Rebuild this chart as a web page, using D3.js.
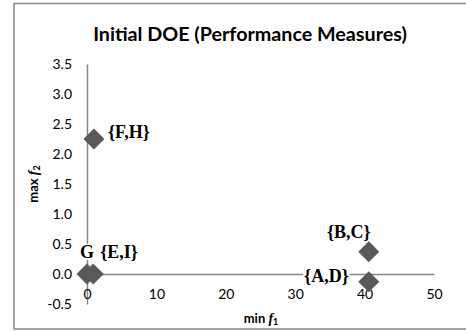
<!DOCTYPE html>
<html>
<head>
<meta charset="utf-8">
<script src="https://cdn.jsdelivr.net/npm/d3@7"></script>
<style>
  html, body { margin: 0; padding: 0; background: #fff; }
  svg { display: block; }
</style>
</head>
<body>
<svg id="chart" width="466" height="331"></svg>
<script>
// ---- data ----
const categories = ["G", "{E,I}", "{F,H}", "{B,C}", "{A,D}"];
const f1Values = [0, 0.9, 1.0, 40.6, 40.6];
const f2Values = [0, 0, 2.25, 0.37, -0.13];
const xTicks = [0, 10, 20, 30, 40, 50];
const yTicks = [-0.5, 0, 0.5, 1.0, 1.5, 2.0, 2.5, 3.0, 3.5];
const labelPlacement = ["above", "aboveRight", "right", "aboveLeft", "left"];
const titleText = "Initial DOE (Performance Measures)";

// ---- layout ----
const W = 466, H = 331;
const plot = { left: 87, right: 434, top: 64, bottom: 304 };
const axisColor = "#868686";
const markColor = "#595959";
const sansFont = "Lato, 'Liberation Sans', Arial, sans-serif";
const serifFont = "'Liberation Serif', 'Times New Roman', serif";

const svg = d3.select("#chart");

// outer border
svg.append("rect")
  .attr("x", 14).attr("y", 3.5)
  .attr("width", W).attr("height", 325.5)
  .attr("fill", "#fff")
  .attr("stroke", axisColor).attr("stroke-width", 1.5);

const x = d3.scaleLinear().domain([0, 50]).range([plot.left, plot.right]);
const y = d3.scaleLinear().domain([-0.5, 3.5]).range([plot.bottom, plot.top]);

// title
const title = svg.append("text")
  .attr("x", 250).attr("y", 33)
  .attr("text-anchor", "middle")
  .attr("dominant-baseline", "central")
  .style("font-family", sansFont)
  .style("font-weight", "bold")
  .style("font-size", "18px")
  .attr("fill", "#000")
  .text(titleText);
{
  const w = title.node().getComputedTextLength();
  title.style("font-size", (18 * 314 / w).toFixed(2) + "px");
}

// y axis (crosses x at 0)
const yAxis = svg.append("g")
  .attr("transform", `translate(${x(0)},0)`)
  .call(d3.axisLeft(y).tickValues(yTicks).tickSize(0).tickSizeOuter(0)
    .tickPadding(15).tickFormat(d => d.toFixed(1)));
yAxis.select(".domain").attr("stroke", axisColor).attr("stroke-width", 1.5);
yAxis.selectAll("text")
  .style("font-family", sansFont).style("font-size", "14px").attr("fill", "#000");

// x axis (crosses y at 0)
const xAxis = svg.append("g")
  .attr("transform", `translate(0,${y(0)})`)
  .call(d3.axisBottom(x).tickValues(xTicks).tickSize(0).tickSizeOuter(0)
    .tickPadding(15).tickFormat(d3.format("d")));
xAxis.select(".domain").attr("stroke", axisColor).attr("stroke-width", 1.5);
xAxis.selectAll("text")
  .style("font-family", sansFont).style("font-size", "14px").attr("fill", "#000");

// axis titles
const xTitle = svg.append("text")
  .attr("x", 261).attr("y", 318)
  .attr("text-anchor", "middle")
  .attr("dominant-baseline", "central")
  .style("font-family", sansFont).style("font-size", "13px").style("font-weight", "bold");
xTitle.append("tspan").text("min ");
xTitle.append("tspan").style("font-family", serifFont).style("font-style", "italic").style("font-size", "14px").text("f");
xTitle.append("tspan").attr("dy", 3).style("font-size", "9px").text("1");

const yTitle = svg.append("text")
  .attr("transform", `translate(33,184) rotate(-90)`)
  .attr("text-anchor", "middle")
  .attr("dominant-baseline", "central")
  .style("font-family", sansFont).style("font-size", "13px").style("font-weight", "bold");
yTitle.append("tspan").text("max ");
yTitle.append("tspan").style("font-family", serifFont).style("font-style", "italic").style("font-size", "14px").text("f");
yTitle.append("tspan").attr("dy", 3).style("font-size", "9px").text("2");

// markers
const points = categories.map((c, i) => ({ name: c, f1: f1Values[i], f2: f2Values[i], place: labelPlacement[i] }));
const diamond = d3.symbol(d3.symbolSquare, 220);
svg.append("g").selectAll("path")
  .data(points)
  .join("path")
  .attr("d", diamond)
  .attr("transform", d => `translate(${x(d.f1)},${y(d.f2)}) rotate(45)`)
  .attr("fill", markColor);

// labels
const offsets = {
  above:      { dx: 0,   dy: -22, anchor: "middle" },
  aboveRight: { dx: 7,   dy: -22, anchor: "start" },
  right:      { dx: 14,  dy: -7,  anchor: "start" },
  aboveLeft:  { dx: -20, dy: -20, anchor: "middle" },
  left:       { dx: -20, dy: -6,  anchor: "end" }
};
const labelG = svg.append("g");
points.forEach(d => {
  const o = offsets[d.place];
  const g = labelG.append("g");
  const rect = g.append("rect").attr("fill", "#fff");
  const t = g.append("text")
    .attr("x", x(d.f1) + o.dx).attr("y", y(d.f2) + o.dy)
    .attr("text-anchor", o.anchor)
    .attr("dominant-baseline", "central")
    .style("font-family", serifFont).style("font-weight", "bold").style("font-size", "18px")
    .attr("fill", "#000")
    .text(d.name);
  const b = t.node().getBBox();
  rect.attr("x", b.x - 1).attr("y", b.y + 2).attr("width", b.width + 2).attr("height", b.height - 4);
});
</script>
</body>
</html>
